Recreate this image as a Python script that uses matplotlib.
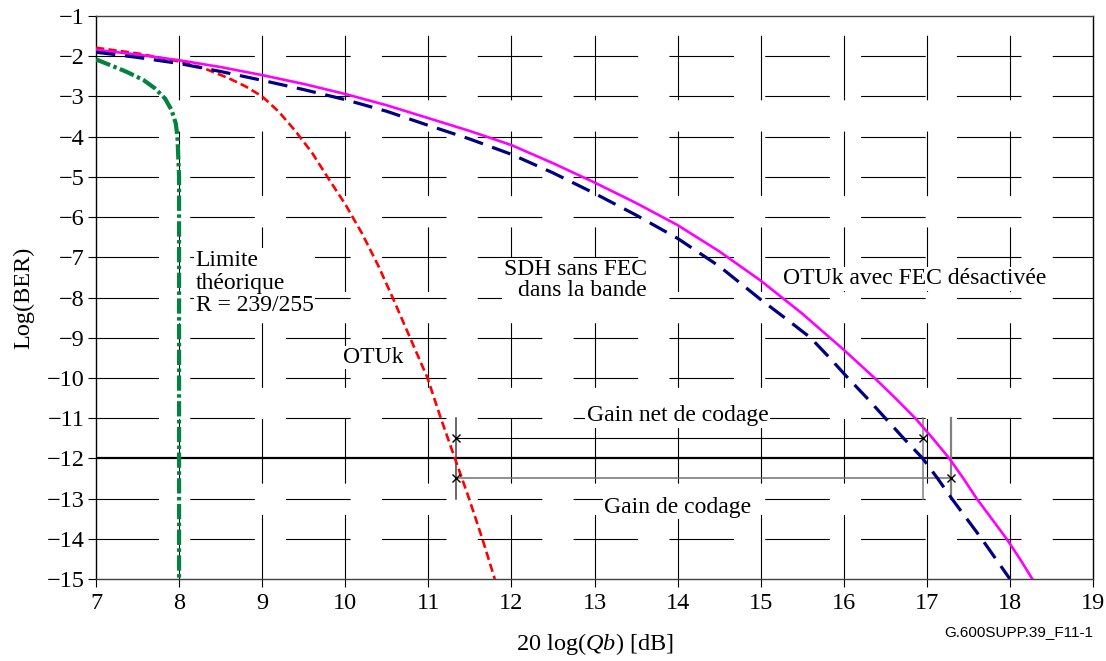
import matplotlib
matplotlib.use("Agg")
import matplotlib.pyplot as plt

DPI = 100

# Curve data: x = 20 log(Qb) [dB], y = log(BER)
limit_x = [7.0, 7.17, 7.37, 7.57, 7.71, 7.83, 7.91, 7.96, 7.98, 8.0, 8.0]
limit_y = [-2.08, -2.22, -2.39, -2.59, -2.8, -3.05, -3.34, -3.67, -4.0, -5.0, -15.0]

otuk_x = [7.0, 7.5, 8.0, 8.3, 8.6, 8.8, 9.0, 9.2, 9.4, 9.6, 9.8, 10.0, 10.2,
          10.4, 10.57, 10.78, 10.99, 11.15, 11.32, 11.49, 11.65, 11.8]
otuk_y = [-1.79, -1.93, -2.13, -2.3, -2.55, -2.75, -3.0, -3.38, -3.86, -4.4, -5.05, -5.68, -6.4,
          -7.22, -8.0, -9.0, -10.0, -11.0, -12.0, -13.0, -14.0, -15.0]

sdh_x = [7.0, 7.5, 8.0, 8.5, 9.0, 9.5, 10.0, 10.5, 11.0, 11.5, 12.0, 12.5, 13.0, 13.5,
         14.0, 14.5, 15.0, 15.3, 15.6, 15.83, 16.05, 16.28, 16.5, 16.72, 16.95, 17.13,
         17.3, 17.48, 17.66, 17.83, 18.0]
sdh_y = [-1.9, -2.03, -2.18, -2.38, -2.6, -2.83, -3.08, -3.37, -3.72, -4.06, -4.44, -4.9,
         -5.41, -5.95, -6.53, -7.22, -8.05, -8.52, -9.0, -9.5, -10.0, -10.5, -11.0, -11.5,
         -12.0, -12.5, -13.0, -13.5, -14.0, -14.5, -15.0]

fec_off_x = [7.0, 7.5, 8.0, 8.5, 9.0, 9.5, 10.0, 10.5, 11.0, 11.5, 12.0, 12.5, 13.0, 13.5,
             14.0, 14.5, 15.0, 15.5, 16.0, 16.37, 16.62, 16.86, 17.07, 17.27, 17.44, 17.6,
             17.78, 17.96, 18.12, 18.27]
fec_off_y = [-1.84, -1.96, -2.1, -2.27, -2.47, -2.69, -2.94, -3.22, -3.54, -3.86, -4.21, -4.66,
             -5.14, -5.65, -6.2, -6.85, -7.58, -8.4, -9.3, -10.0, -10.5, -11.0, -11.5, -12.0,
             -12.5, -13.0, -13.5, -14.0, -14.5, -15.0]

# Coding gain brackets
gain_start = 11.33
net_gain_end = 16.95
gain_end = 17.29
net_gain_level = -11.5
gain_level = -12.5
bracket_span = [-13.0, -11.0]
reference_ber = -12

x_ticks = list(range(7, 20))
y_ticks = list(range(-15, 0))

plt.rcParams['font.family'] = ['Liberation Serif', 'DejaVu Serif']
plt.rcParams['mathtext.fontset'] = 'custom'
plt.rcParams['mathtext.rm'] = 'Liberation Serif'
plt.rcParams['mathtext.it'] = 'Liberation Serif:italic'
plt.rcParams['lines.scale_dashes'] = False
plt.rcParams['lines.solid_joinstyle'] = 'round'
plt.rcParams['lines.dash_joinstyle'] = 'round'

fig = plt.figure(figsize=(1106 / DPI, 661 / DPI), dpi=DPI)
ax = fig.add_axes([96 / 1106, 1 - 579 / 661, 997 / 1106, 563 / 661])

# Broken grid as in the original artwork
grid_dash = (1.5, (46.5, 22.5))
for y in y_ticks[1:-1]:
    if y == reference_ber:
        continue
    ax.axhline(y, color='black', lw=0.8, linestyle=grid_dash, zorder=1)
for x in x_ticks[1:-1]:
    ax.axvline(x, color='black', lw=0.8, linestyle=(0, (46.5, 22.5)), zorder=1)
ax.axhline(reference_ber, color='black', lw=1.6, zorder=2)

# Curves
ax.plot(limit_x, limit_y, color='#00843f', lw=3.0,
        linestyle=(0, (11, 2.5, 2.5, 2.5)), zorder=4)
ax.plot(otuk_x, otuk_y, color='#ff0000', lw=1.9, linestyle=(0, (6, 3)), zorder=4)
ax.plot(fec_off_x, fec_off_y, color='#ff00ff', lw=1.9, zorder=4)
ax.plot(sdh_x, sdh_y, color='#000080', lw=2.3, linestyle=(0, (14, 7)), zorder=5)

# Gain brackets
ax.plot([gain_start, net_gain_end], [net_gain_level] * 2, color='black', lw=0.8, zorder=3)
ax.plot([gain_start, gain_end], [gain_level] * 2, color='#707070', lw=1.1, zorder=3)
ax.plot([gain_start] * 2, bracket_span, color='#404040', lw=1.1, zorder=3)
ax.plot([net_gain_end] * 2, bracket_span, color='#808080', lw=1.1, zorder=3)
ax.plot([gain_end] * 2, bracket_span, color='#808080', lw=1.6, zorder=3)
ax.plot([gain_start, net_gain_end], [net_gain_level] * 2, 'x', color='black',
        ms=6, mew=1.0, zorder=6)
ax.plot([gain_start, gain_end], [gain_level] * 2, 'x', color='black',
        ms=6, mew=1.0, zorder=6)

# Annotations
box = dict(facecolor='white', edgecolor='none', pad=1)
fs = 17
ax.text(8.2, -7.64, "Limite\nthéorique\nR = 239/255", fontsize=fs, ha='left', va='center',
        linespacing=1.12, bbox=box, zorder=3)
ax.text(10.34, -9.49, "OTUk", fontsize=fs, ha='center', va='center', bbox=box, zorder=3)
ax.text(13.63, -7.57, "SDH sans FEC\ndans la bande", fontsize=fs, ha='right', va='center',
        multialignment='right', linespacing=1.02, bbox=box, zorder=3)
ax.text(15.27, -7.53, "OTUk avec FEC désactivée", fontsize=fs, ha='left', va='center',
        bbox=box, zorder=3)
ax.text(14.0, -10.94, "Gain net de codage", fontsize=fs, ha='center', va='center',
        bbox=box, zorder=3)
ax.text(14.0, -13.21, "Gain de codage", fontsize=fs, ha='center', va='center',
        bbox=box, zorder=3)

# Axes
ax.set_xlim(7, 19)
ax.set_ylim(-15, -1)
ax.set_xticks(x_ticks)
ax.set_yticks(y_ticks)
ax.tick_params(axis='both', direction='out', length=6, width=0.8, labelsize=17.5, pad=2)
ax.tick_params(axis='x', pad=4)
for side in ['left', 'bottom', 'right', 'top']:
    ax.spines[side].set_linewidth(1.0)
ax.spines['top'].set_color('#404040')
ax.spines['bottom'].set_color('#404040')

ax.set_xlabel("20 log($\\mathit{Qb}$) [dB]", fontsize=17.5, va='center')
ax.set_ylabel("Log(BER)", fontsize=17.5, va='center')
ax.xaxis.set_label_coords(0.5, (579 - 644) / 563)
ax.yaxis.set_label_coords((24 - 96) / 997, 0.5)

fig.text(1093 / 1106, 1 - 632 / 661, "G.600SUPP.39_F11-1", fontsize=11,
         family='Liberation Sans', ha='right', va='center')

fig.savefig("out.png", dpi=DPI)
